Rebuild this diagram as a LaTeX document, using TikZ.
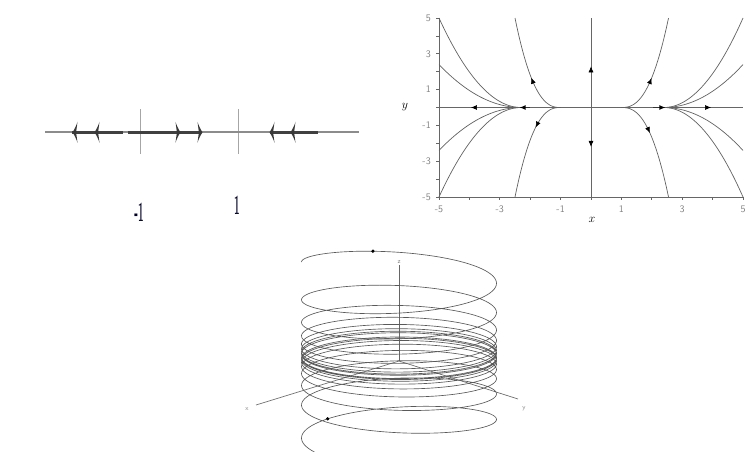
\documentclass[tikz,border=0pt]{standalone}
\usetikzlibrary{arrows.meta,decorations.markings}
\begin{document}
\begin{tikzpicture}[x=1pt,y=-1pt,
  pl/.style={draw=black!62, line width=0.7pt},
  ax/.style={draw=black!60, line width=0.65pt},
  tk/.style={font=\sffamily\fontsize{10}{10}\selectfont, text=black!50, inner sep=0pt},
  lab3/.style={font=\sffamily\fontsize{6.5}{6.5}\selectfont, text=black!50, inner sep=0pt},
  biglab/.style={font=\bfseries\fontsize{20}{20}\selectfont, text=black!85!blue, inner sep=0pt},
  tip/.style={-{Latex[length=6pt,width=5pt,fill=black,color=black]}},
  mk/.style={postaction={decorate}, decoration={markings, mark=at position #1 with {\arrow{Latex[length=6pt,width=5pt,fill=black,color=black]}}}},
  hx/.style={draw=black!65, line width=0.65pt},
  barb/.pic={\fill[black!78] (0,0) .. controls (2,-3) and (4,-7) .. (5,-10.5) -- (3.6,0) -- (5,10.5) .. controls (4,7) and (2,3) .. (0,0) -- cycle;}
]
\useasboundingbox (0,0) rectangle (747,452);

% ---------------- 1D phase line ----------------
\draw[black!35, line width=0.9pt] (140.7,109) -- (140.7,154);
\draw[black!35, line width=0.9pt] (238.7,109) -- (238.7,154);
\draw[black!45, line width=2.2pt] (45,132.3) -- (359,132.3);
\draw[black!75, line width=2.6pt] (72,132.3) -- (123,132.3);
\draw[black!75, line width=2.6pt] (128,132.3) -- (200,132.3);
\draw[black!75, line width=2.6pt] (270,132.3) -- (318,132.3);
\pic at (72.5,132.3) {barb};
\pic at (94.5,132.3) {barb};
\pic[xscale=-1] at (180.5,132.3) {barb};
\pic[xscale=-1] at (202.5,132.3) {barb};
\pic at (269.5,132.3) {barb};
\pic at (290.5,132.3) {barb};
\node[biglab] (lm1) at (139,212) {\scalebox{0.5}[1.4]{-1}};
\node[biglab] (lp1) at (237,205) {\scalebox{0.5}[1.4]{1}};

% ---------------- phase plane ----------------
\node[font=\fontsize{12}{12}\selectfont, inner sep=0pt] (ylab) at (405,107) {$y$};
\node[font=\fontsize{12}{12}\selectfont, inner sep=0pt] (xlab) at (592,220) {$x$};
\begin{scope}[shift={(591,107.5)}, x=30.4pt, y=17.9pt]
  \draw[ax] (-5,-5) -- (5,-5);
  \draw[ax] (-5,-5) -- (-5,5);
  \draw[ax] (-5,0) -- (5,0);
  \draw[ax] (0,-5) -- (0,5);
  \foreach \k in {-5,...,5} {
    \draw[ax] (-5,\k) -- ++(-3pt,0);
    \draw[ax] (\k,-5) -- ++(0,-3pt);
  }
  \foreach \k [count=\i] in {-5,-3,-1,1,3,5} {
    \node[tk, anchor=east, xshift=-8pt] (yt\i) at (-5,\k) {\k};
    \node[tk, yshift=-12pt] (xt\i) at (\k,-5) {\k};
  }
  % outer families
  \draw[pl] plot[variable=\t, domain=0:2.7, samples=40] ({-2.3-\t}, {5*\t*\t/7.29});
  \draw[pl] plot[variable=\t, domain=0:2.7, samples=40] ({-2.3-\t}, {2.4*\t*\t/7.29});
  \draw[pl] plot[variable=\t, domain=0:2.7, samples=40] ({-2.3-\t}, {-5*\t*\t/7.29});
  \draw[pl] plot[variable=\t, domain=0:2.7, samples=40] ({-2.3-\t}, {-2.4*\t*\t/7.29});
  \draw[pl] plot[variable=\t, domain=0:2.6, samples=40] ({2.4+\t}, {5*\t*\t/6.76});
  \draw[pl] plot[variable=\t, domain=0:2.6, samples=40] ({2.4+\t}, {2.4*\t*\t/6.76});
  \draw[pl] plot[variable=\t, domain=0:2.6, samples=40] ({2.4+\t}, {-5*\t*\t/6.76});
  \draw[pl] plot[variable=\t, domain=0:2.6, samples=40] ({2.4+\t}, {-2.4*\t*\t/6.76});
  % inner curves
  \draw[pl, mk=0.42] plot[variable=\t, domain=0:1.5, samples=40] ({-1-\t}, {5*(\t/1.5)*(\t/1.5)*sqrt(\t/1.5)});
  \draw[pl, mk=0.32] plot[variable=\t, domain=0:1.5, samples=40] ({-1-\t}, {-5*(\t/1.5)*(\t/1.5)*sqrt(\t/1.5)});
  \draw[pl, mk=0.42] plot[variable=\t, domain=0:1.55, samples=40] ({1+\t}, {5*(\t/1.55)*(\t/1.55)*sqrt(\t/1.55)});
  \draw[pl, mk=0.38] plot[variable=\t, domain=0:1.55, samples=40] ({1+\t}, {-5*(\t/1.55)*(\t/1.55)*sqrt(\t/1.55)});
  % axis arrows
  \draw[ax, tip] (-3.6,0) -- (-3.95,0);
  \draw[ax, tip] (3.6,0) -- (3.95,0);
  \draw[ax, tip] (0,1.8) -- (0,2.3);
  \draw[ax, tip] (0,-1.7) -- (0,-2.2);
  \draw[black!80, line width=1.8pt, tip] (-2.0,0) -- (-2.35,0);
  \draw[black!80, line width=1.8pt, tip] (2.05,0) -- (2.45,0);
\end{scope}

% ---------------- 3D helix ----------------
\draw[ax] (399,265) -- (399,361);
\draw[ax] (399,361) -- (256,405);
\draw[ax] (399,361) -- (518,399);
\node[lab3] (zl) at (399,262) {z};
\node[lab3] (xl) at (247,409) {x};
\node[lab3] (yl) at (524,409) {y};
\begin{scope}
  \clip (0,0) rectangle (747,452);
  \draw[hx] plot[variable=\s, domain=0:2880, samples=720, smooth] ({399-97.5*cos(\s)}, {356-94*exp(-(\s)/700)-21*sin(\s)});
  \draw[hx] plot[variable=\s, domain=-30:2880, samples=720, smooth] ({399-97.5*cos(\s)}, {356+82*exp(-(\s)/700)-21*sin(\s)});
\end{scope}
\fill[black] ({399-97.5*cos(74.5)}, {356-94*exp(-74.5/700)-21*sin(74.5)}) circle (1.8pt);
\fill[black] ({399-97.5*cos(43)}, {356+82*exp(-43/700)-21*sin(43)}) circle (1.8pt);
\end{tikzpicture}
\end{document}
